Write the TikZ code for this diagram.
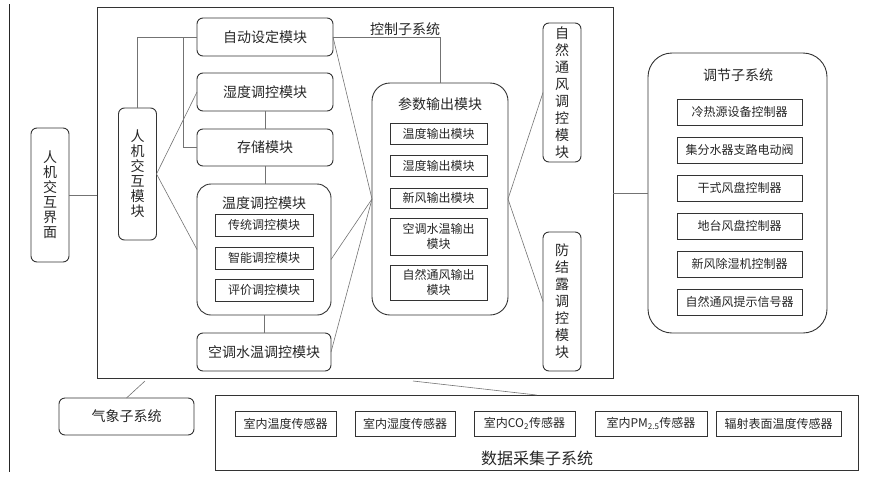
\documentclass[tikz,border=0pt]{standalone}
\usepackage{fontspec}
\setmainfont{Noto Sans CJK SC}
\usetikzlibrary{positioning}
\begin{document}
\begin{tikzpicture}[x=1pt,y=-1pt,node distance=10.5pt,
                    every node/.style={font=\fontsize{14}{16}\selectfont,text=black!85,inner sep=0pt,outer sep=0pt},
                    box/.style={draw=black!80,line width=0.9pt,rounded corners=6pt,minimum width=136pt,minimum height=38pt},
                    vbox/.style={draw=black!80,line width=0.9pt,rounded corners=6pt,minimum width=38pt,align=center},
                    inbox/.style={draw=black!80,line width=0.9pt,font=\fontsize{12}{15}\selectfont,align=center},
                    outer/.style={draw=black!80,line width=0.9pt},
                    link/.style={draw=black!55,line width=0.6pt}]
                \useasboundingbox (0,0) rectangle (886,485);
                \draw [black!85,line width=1.2pt] (9.5,4) -- (9.5,472);
                \node [outer,minimum width=516pt,minimum height=371pt] (ctrl) at (355,192.5) {};
                \node (ctrlT) at (405,29) {控制子系统};
                \node [vbox,minimum height=134pt,font=\fontsize{14}{15}\selectfont] (ui) at (50,195) {人\\机\\交\\互\\界\\面};
                \node [vbox,minimum height=132pt,font=\fontsize{14}{15}\selectfont] (hci) at (137.5,174) {人\\机\\交\\互\\模\\块};
                \node [box]                      (auto)  at (265,37)    {自动设定模块};
                \node [box]                      (hum)   at (265,92)    {湿度调控模块};
                \node [box,minimum height=37pt]  (store) at (265,147.5) {存储模块};
                \node [box,rounded corners=14pt,minimum width=134pt,minimum height=131pt] (temp) at (264,249.5) {};
                \node (tempT) at (264,203) {温度调控模块};
                \node [inbox,minimum width=98pt,minimum height=22pt] (t1) at (264,225) {传统调控模块};
                \node [inbox,minimum width=98pt,minimum height=22pt] (t2) [below=11pt of t1] {智能调控模块};
                \node [inbox,minimum width=98pt,minimum height=22pt] (t3) [below=10pt of t2] {评价调控模块};
                \node [box,minimum width=134pt]  (water) at (264,352)   {空调水温调控模块};
                \node [box,rounded corners=18pt,minimum height=232pt] (param) at (440,199) {};
                \node (paramT) at (440,104) {参数输出模块};
                \node [inbox,minimum width=97pt,minimum height=21pt] (p1) at (438.5,133.5) {温度输出模块};
                \node [inbox,minimum width=97pt,minimum height=21pt] (p2) [below=11pt of p1] {湿度输出模块};
                \node [inbox,minimum width=97pt,minimum height=20pt] (p3) [below=12pt of p2] {新风输出模块};
                \node [inbox,minimum width=97pt,minimum height=37pt] (p4) [below=10pt of p3] {空调水温输出\\模块};
                \node [inbox,minimum width=97pt,minimum height=35pt] (p5) [below=10pt of p4] {自然通风输出\\模块};
                \node [vbox,minimum height=139pt,font=\fontsize{14}{17}\selectfont] (nat) at (562,92.5)  {自\\然\\通\\风\\调\\控\\模\\块};
                \node [vbox,minimum height=139pt,font=\fontsize{14}{17}\selectfont] (dew) at (562,301.5) {防\\结\\露\\调\\控\\模\\块};
                \node [box,rounded corners=24pt,minimum width=179pt,minimum height=280pt] (reg) at (737.5,193) {};
                \node (regT) at (738,75) {调节子系统};
                \node [inbox,minimum width=125pt,minimum height=26pt] (r1) at (739.5,112) {冷热源设备控制器};
                \node [inbox,minimum width=125pt,minimum height=26pt] (r2) [below=12pt of r1] {集分水器支路电动阀};
                \node [inbox,minimum width=125pt,minimum height=26pt] (r3) [below=12pt of r2] {干式风盘控制器};
                \node [inbox,minimum width=125pt,minimum height=26pt] (r4) [below=12pt of r3] {地台风盘控制器};
                \node [inbox,minimum width=125pt,minimum height=26pt] (r5) [below=12pt of r4] {新风除湿机控制器};
                \node [inbox,minimum width=125pt,minimum height=26pt] (r6) [below=12pt of r5] {自然通风提示信号器};
                \node [box,minimum width=135pt,minimum height=37pt] (met) at (126.5,416.5) {气象子系统};
                \node [outer,minimum width=643pt,minimum height=75pt] (daq) at (536.5,432.5) {};
                \node [inbox,minimum width=101pt,minimum height=25pt] (s1) at (285.5,423.5) {室内温度传感器};
                \node [inbox,minimum width=100pt,minimum height=25pt] (s2) at (405,423.5)   {室内湿度传感器};
                \node [inbox,minimum width=101pt,minimum height=25pt] (s3) at (524.5,423.5) {室内CO\textsubscript{2}传感器};
                \node [inbox,minimum width=112pt,minimum height=25pt] (s4) at (651,423.5)   {室内PM\textsubscript{2.5}传感器};
                \node [inbox,minimum width=125pt,minimum height=25pt] (s5) at (778.5,423.5) {辐射表面温度传感器};
                \node [font=\fontsize{16}{18}\selectfont] (daqT) at (537,458) {数据采集子系统};
                \coordinate (br) at (183,37);
                \coordinate (m1) at (145,381);
                \coordinate (d1) at (413,381);
                \draw [link] (ui.east) -- (ui.east -| ctrl.west);
                \draw [link] (hci.north) |- (auto.west);
                \draw [link] (br) |- (store.west);
                \draw [link] (hci.east) -- (hum.west);
                \draw [link] (hci.east) -- (temp.west);
                \draw [link] (hum.south) -- (hum.south |- store.north);
                \draw [link] (store.south) -- (store.south |- temp.north);
                \draw [link] (temp.south) -- (water.north);
                \draw [link] (auto.east) -| (param.north);
                \draw [link] (auto.east) -- (param.west);
                \draw [link] ([yshift=-10pt]temp.east) -- (param.west);
                \draw [link] (water.east) -- (param.west);
                \draw [link] (param.east) -- (nat.west);
                \draw [link] (param.east) -- (dew.west);
                \draw [link] (ctrl.east |- reg.west) -- (reg.west);
                \draw [link] (m1) -- (met.north);
                \draw [link] (d1) -- (daq.north);
            \end{tikzpicture}
\end{document}
